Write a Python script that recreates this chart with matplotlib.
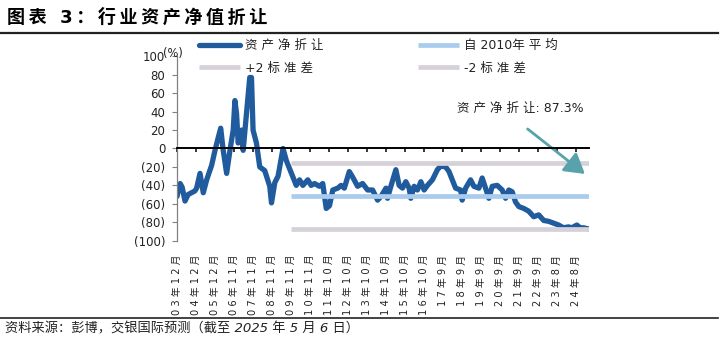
import matplotlib
matplotlib.use('Agg')
import matplotlib.pyplot as plt
import matplotlib.dates as mdates
from matplotlib.lines import Line2D
import numpy as np
import pandas as pd

FAM = ['DejaVu Sans', 'Noto Sans CJK SC']
plt.rcParams['font.family'] = FAM

# ---------------- data ----------------
dates = ['2003-12-01', '2004-01-30', '2004-03-08', '2004-05-01', '2004-06-28', '2004-09-01', '2004-11-06',
         '2004-12-08', '2005-02-10', '2005-04-13', '2005-06-17', '2005-09-20', '2005-11-22', '2006-01-23',
         '2006-03-10', '2006-04-27', '2006-07-01', '2006-09-02', '2006-11-03', '2006-12-05', '2007-01-05',
         '2007-02-05', '2007-04-09', '2007-05-11', '2007-07-13', '2007-09-13', '2007-10-16', '2007-11-15',
         '2008-01-18', '2008-03-21', '2008-06-24', '2008-09-27', '2008-10-30', '2009-01-01', '2009-03-04',
         '2009-06-06', '2009-08-08', '2009-10-09', '2009-12-12', '2010-02-13', '2010-04-16', '2010-06-18',
         '2010-09-20', '2010-11-23', '2011-01-25', '2011-04-29', '2011-07-01', '2011-09-05', '2011-11-06',
         '2012-01-08', '2012-04-11', '2012-06-13', '2012-08-14', '2012-11-16', '2013-01-19', '2013-04-23',
         '2013-07-27', '2013-10-30', '2014-02-02', '2014-05-08', '2014-07-11', '2014-10-14', '2014-11-13',
         '2014-12-16', '2015-01-15', '2015-04-20', '2015-06-21', '2015-08-24', '2015-10-26', '2015-12-28',
         '2016-01-29', '2016-04-01', '2016-06-03', '2016-08-07', '2016-10-08', '2016-12-10', '2017-03-14',
         '2017-06-17', '2017-08-19', '2017-11-21', '2018-01-23', '2018-03-27', '2018-05-29', '2018-09-01',
         '2018-10-01', '2018-12-05', '2019-03-09', '2019-05-11', '2019-08-14', '2019-10-16', '2019-12-19',
         '2020-02-20', '2020-04-23', '2020-07-27', '2020-10-30', '2021-01-02', '2021-03-05', '2021-05-08',
         '2021-07-10', '2021-09-11', '2021-12-14', '2022-03-18', '2022-06-21', '2022-09-24', '2022-12-27',
         '2023-04-01', '2023-07-05', '2023-10-06', '2024-01-09', '2024-04-12', '2024-06-14', '2024-09-17',
         '2024-11-20', '2025-01-22', '2025-05-06']

discount = [-52, -38, -42, -57, -50, -48, -46, -43, -27, -48,
            -34, -18, -2, 12, 22, -2, -27, -2, 20, 52,
            38, 6, 20, -2, 38, 77, 77, 20, 6, -20,
            -24, -41, -59, -37, -30, 0, -13, -22, -31, -40,
            -34, -40, -34, -40, -38, -41, -38, -65, -62, -45,
            -43, -40, -43, -25, -31, -41, -38, -45, -45, -56,
            -52, -43, -54, -47, -41, -23, -40, -43, -36, -43,
            -54, -41, -45, -36, -45, -40, -34, -23, -19, -20,
            -25, -34, -43, -45, -56, -43, -34, -41, -43, -32,
            -43, -54, -41, -40, -45, -54, -45, -47, -58, -63,
            -65, -68, -74, -72, -78, -79, -81, -83, -86, -85,
            -86, -83, -86, -86, -87.3]

mean_since_2010 = -51.6
plus_2sd = -16.0
minus_2sd = -87.2

tick_labels = ['03年12月', '04年12月', '05年12月', '06年11月', '07年11月', '08年11月', '09年11月',
               '10年11月', '11年10月', '12年10月', '13年10月', '14年10月', '15年10月', '16年10月',
               '17年9月', '18年9月', '19年9月', '20年9月', '21年9月', '22年9月', '23年8月', '24年8月']
first_tick_date = '2003-12-01'
last_tick_date = '2024-08-31'
ref_start_tick = 6  # 09年11月

yticks = [100, 80, 60, 40, 20, 0, -20, -40, -60, -80, -100]
ytick_labels = ['100', '80', '60', '40', '20', '0', '(20)', '(40)', '(60)', '(80)', '(100)']

legend_labels = ['资 产 净 折 让', '+2 标 准 差', '自 2010年 平 均', '-2 标 准 差']
annotation_text = '资 产 净 折 让: 87.3%'
title_text = '图表 3：行业资产净值折让'
source_text = '资料来源：彭博，交银国际预测（截至 2025 年 5 月 6 日）'

# ---------------- styles ----------------
C_MAIN = '#1f5b9d'
C_MEAN = '#a9cbed'
C_SD = '#d6d1d9'
C_ARROW = '#57a2ab'


def spaced(s, sep=' '):
    return sep.join(s)


W, H = 725, 341
fig = plt.figure(figsize=(W / 100, H / 100), dpi=100)
fig.patch.set_facecolor('white')


def fy(py):
    return 1 - py / H


ax = fig.add_axes([177 / W, 1 - 240.7 / H, 412 / W, 184.4 / H])
x = pd.to_datetime(dates)
xnum = mdates.date2num(x)

line_main, = ax.plot(xnum, discount, color=C_MAIN, lw=3.8, solid_joinstyle='round',
                     solid_capstyle='round', zorder=2)

tick_pos = np.linspace(mdates.date2num(pd.Timestamp(first_tick_date)),
                       mdates.date2num(pd.Timestamp(last_tick_date)), len(tick_labels))
ref_x = [tick_pos[ref_start_tick], xnum[-1]]
line_p2, = ax.plot(ref_x, [plus_2sd] * 2, color=C_SD, lw=3.4, solid_capstyle='butt', zorder=3)
line_mean, = ax.plot(ref_x, [mean_since_2010] * 2, color=C_MEAN, lw=3.4, solid_capstyle='butt', zorder=3)
line_m2, = ax.plot(ref_x, [minus_2sd] * 2, color=C_SD, lw=3.4, solid_capstyle='butt', zorder=3)

ax.set_xlim(xnum[0], xnum[-1])
ax.set_ylim(-100, 100)

for s in ['top', 'right']:
    ax.spines[s].set_visible(False)
ax.spines['left'].set_color('#808080')
ax.spines['left'].set_linewidth(0.9)
ax.spines['bottom'].set_position(('data', 0))
ax.spines['bottom'].set_color('black')
ax.spines['bottom'].set_linewidth(1.4)
ax.spines['bottom'].set_zorder(4)

ax.set_xticks(tick_pos)
ax.tick_params(axis='x', direction='out', length=3, width=1.1, color='black', labelbottom=False)
ax.set_yticks(yticks)
ax.set_yticklabels(ytick_labels)
ax.tick_params(axis='y', direction='out', length=3.5, width=0.8, color='#808080', labelsize=8.5,
               pad=5, labelcolor='#222222')

sec = ax.secondary_xaxis('bottom')
sec.set_xticks(tick_pos)
sec.set_xticklabels([spaced(l) for l in tick_labels])
sec.tick_params(length=0, pad=10, labelsize=7.1, labelrotation=90, labelcolor='#222222')
sec.spines['bottom'].set_visible(False)

# legend
fig.legend(handles=[line_main, line_p2, line_mean, line_m2], labels=legend_labels, ncol=2,
           loc='upper left', bbox_to_anchor=(199 / W, fy(39)), frameon=False, fontsize=9,
           handlelength=3.3, handletextpad=0.35, columnspacing=7.6, labelspacing=0.78,
           borderpad=0, borderaxespad=0, labelcolor='#222222')

# annotation
ax.text(0.680, 0.7196, annotation_text, transform=ax.transAxes, fontsize=9, ha='left', va='center',
        color='#222222')
ax.annotate('', xy=(0.990, 0.362), xytext=(0.851, 0.606), xycoords='axes fraction',
            textcoords='axes fraction',
            arrowprops=dict(arrowstyle='-|>,head_length=0.6,head_width=0.36', lw=2.0,
                            color=C_ARROW, mutation_scale=20, shrinkA=0, shrinkB=0))

fig.text(163 / W, fy(53), '(%)', fontsize=8.3, ha='left', va='center', color='#222222')

# title and source
fig.text(7 / W, fy(17.5), spaced(title_text, '\u2009'), fontsize=13, fontweight='bold',
         ha='left', va='center')
fig.add_artist(Line2D([0, 718 / W], [fy(33), fy(33)], color='#222222', lw=1.6))
fig.add_artist(Line2D([0, 718 / W], [fy(317.5), fy(317.5)], color='#222222', lw=1.2))
fig.text(5 / W, fy(328.5), source_text, fontsize=9.5, style='italic', ha='left', va='center',
         color='#222222')

fig.savefig('out.png', dpi=100)
